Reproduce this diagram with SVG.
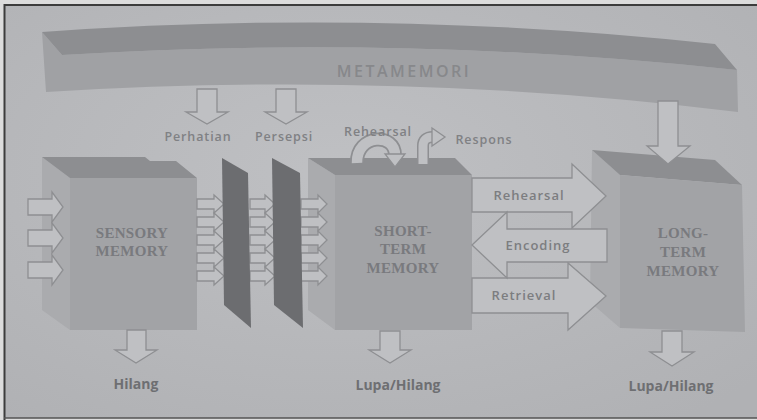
<svg xmlns="http://www.w3.org/2000/svg" width="757" height="420" viewBox="0 0 757 420">
<defs>
<radialGradient id="bg" cx="0.45" cy="0.4" r="0.75">
<stop offset="0" stop-color="#bfc0c3"/>
<stop offset="1" stop-color="#b0b1b4"/>
</radialGradient>
<style>
.hol{fill:#bfc0c3;stroke:#8e8f92;stroke-width:1.3;stroke-linejoin:miter}
.top{fill:#8d8e91}
.side{fill:#aaabae}
.front{fill:#a2a3a6}
.plane{fill:#6c6d70}
.ttl{font-family:"Liberation Serif",serif;font-weight:700;font-size:15px;fill:#797a7e;text-anchor:middle;letter-spacing:0.3px}
.lbl{font-family:"Open Sans","Liberation Sans",sans-serif;font-weight:600;font-size:12.5px;fill:#808184;text-anchor:middle;letter-spacing:0.9px}
.big{font-family:"Open Sans","Liberation Sans",sans-serif;font-weight:600;font-size:13px;fill:#7c7d80;text-anchor:middle;letter-spacing:1px}
.bot{font-family:"Open Sans","Liberation Sans",sans-serif;font-weight:700;font-size:14px;fill:#6e6f72;text-anchor:middle}
</style>
</defs>
<rect x="0" y="0" width="757" height="420" fill="#dcdcdc"/>
<rect x="5" y="5" width="752" height="413" fill="url(#bg)"/>
<path d="M4.5,420 L4.5,5 L757,5" fill="none" stroke="#3c3c3c" stroke-width="2"/>
<line x1="4" y1="418" x2="757" y2="418" stroke="#555" stroke-width="1.5"/>

<g id="metamemori">
<path d="M42,32 L62,55 Q400,34 737,70 L738,112 Q400,70 46,92 Z" fill="#a0a1a4"/>
<path class="top" d="M42,32 Q380,8 715,44 L737,70 Q400,34 62,55 Z"/>
<text x="404" y="77" font-family="'Open Sans','Liberation Sans',sans-serif" font-weight="600" font-size="16" fill="#87888b" text-anchor="middle" letter-spacing="2.5">METAMEMORI</text>
</g>

<g id="sensory-memory">
<polygon class="side" points="42,157 70,178 70,330 42,310"/>
<polygon class="top" points="42,157 145,157 150,161 176,161 197,178 70,178"/>
<rect class="front" x="70" y="178" width="127" height="152"/>
<text class="ttl" x="132" y="238">SENSORY</text>
<text class="ttl" x="132" y="256">MEMORY</text>
</g>

<g id="short-term-memory">
<polygon class="side" points="308,158 335,175 335,330 308,310"/>
<polygon class="top" points="308,158 455,158 472,175 335,175"/>
<rect class="front" x="335" y="175" width="137" height="155"/>
<text class="ttl" x="403" y="236">SHORT-</text>
<text class="ttl" x="403" y="254">TERM</text>
<text class="ttl" x="403" y="273">MEMORY</text>
</g>

<g id="long-term-memory">
<polygon class="side" points="592,150 620,175 620,328 590,302"/>
<polygon class="top" points="592,150 715,160 742,185 620,175"/>
<polygon class="front" points="620,175 742,185 745,332 620,328"/>
<text class="ttl" x="683" y="238">LONG-</text>
<text class="ttl" x="683" y="257">TERM</text>
<text class="ttl" x="683" y="276">MEMORY</text>
</g>

<g id="connectors">
<path class="hol" d="M28,199 L52,199 L52,192 L63,207 L52,222 L52,215 L28,215 Z"/>
<path class="hol" d="M28,230 L52,230 L52,223 L63,238 L52,253 L52,246 L28,246 Z"/>
<path class="hol" d="M28,262 L52,262 L52,255 L63,270 L52,285 L52,278 L28,278 Z"/>
<path class="hol" d="M197,199 L214,199 L214,195 L224,204 L214,213 L214,209 L197,209 Z"/>
<path class="hol" d="M197,217 L214,217 L214,213 L224,222 L214,231 L214,227 L197,227 Z"/>
<path class="hol" d="M197,235 L214,235 L214,231 L224,240 L214,249 L214,245 L197,245 Z"/>
<path class="hol" d="M197,253 L214,253 L214,249 L224,258 L214,267 L214,263 L197,263 Z"/>
<path class="hol" d="M197,271 L214,271 L214,267 L224,276 L214,285 L214,281 L197,281 Z"/>
<path class="hol" d="M250,199 L265,199 L265,195 L275,204 L265,213 L265,209 L250,209 Z"/>
<path class="hol" d="M250,217 L265,217 L265,213 L275,222 L265,231 L265,227 L250,227 Z"/>
<path class="hol" d="M250,235 L265,235 L265,231 L275,240 L265,249 L265,245 L250,245 Z"/>
<path class="hol" d="M250,253 L265,253 L265,249 L275,258 L265,267 L265,263 L250,263 Z"/>
<path class="hol" d="M250,271 L265,271 L265,267 L275,276 L265,285 L265,281 L250,281 Z"/>
<path class="hol" d="M301,199 L318,199 L318,195 L327,204 L318,213 L318,209 L301,209 Z"/>
<path class="hol" d="M301,217 L318,217 L318,213 L327,222 L318,231 L318,227 L301,227 Z"/>
<path class="hol" d="M301,235 L318,235 L318,231 L327,240 L318,249 L318,245 L301,245 Z"/>
<path class="hol" d="M301,253 L318,253 L318,249 L327,258 L318,267 L318,263 L301,263 Z"/>
<path class="hol" d="M301,271 L318,271 L318,267 L327,276 L318,285 L318,281 L301,281 Z"/>
<path class="hol" d="M197,89 L217,89 L217,112 L228,112 L207,124 L186,112 L197,112 Z"/>
<path class="hol" d="M276,89 L296,89 L296,112 L307,112 L286,124 L265,112 L276,112 Z"/>
<path class="hol" d="M658,101 L678,101 L678,146 L690,146 L668,164 L647,146 L658,146 Z"/>
<path d="M357,163 C356,134 396,132 395,156" fill="none" stroke="#8e8f92" stroke-width="14"/>
<path d="M357,163 C356,134 396,132 395,156" fill="none" stroke="#bfc0c3" stroke-width="10.5"/>
<polygon class="hol" points="385,154 405,154 395,167"/>
<path d="M423,164 L423,146 Q423,137 433,137" fill="none" stroke="#8e8f92" stroke-width="12"/>
<path d="M423,164 L423,146 Q423,137 433,137" fill="none" stroke="#bfc0c3" stroke-width="9"/>
<polygon class="hol" points="432,128 445,137 432,146"/>
<path class="hol" d="M472,178 L572,178 L572,164 L606,196 L572,228 L572,212 L472,212 Z"/>
<path class="hol" d="M472,278 L568,278 L568,263 L606,296 L568,330 L568,313 L472,313 Z"/>
<path class="hol" d="M607,229 L507,229 L507,212 L472,245 L507,278 L507,262 L607,262 Z"/>
<path class="hol" d="M127,330 L146,330 L146,350 L157,350 L136,363 L115,350 L127,350 Z"/>
<path class="hol" d="M380,331 L400,331 L400,350 L411,350 L390,363 L369,350 L380,350 Z"/>
<path class="hol" d="M662,331 L682,331 L682,352 L694,352 L672,366 L650,352 L662,352 Z"/>
</g>

<g id="filter-perhatian">
<polygon class="plane" points="222,158 248,173 251,328 224,305"/>
</g>
<g id="filter-persepsi">
<polygon class="plane" points="272,158 300,173 303,328 274,305"/>
</g>

<g id="labels">
<text class="lbl" x="198" y="141">Perhatian</text>
<text class="lbl" x="284" y="141">Persepsi</text>
<text class="lbl" x="378" y="136">Rehearsal</text>
<text class="lbl" x="484" y="144">Respons</text>
<text class="big" x="529" y="200">Rehearsal</text>
<text class="big" x="538" y="250">Encoding</text>
<text class="big" x="524" y="300">Retrieval</text>
<text class="bot" x="136" y="389">Hilang</text>
<text class="bot" x="398" y="390">Lupa/Hilang</text>
<text class="bot" x="671" y="391">Lupa/Hilang</text>
</g>
</svg>
